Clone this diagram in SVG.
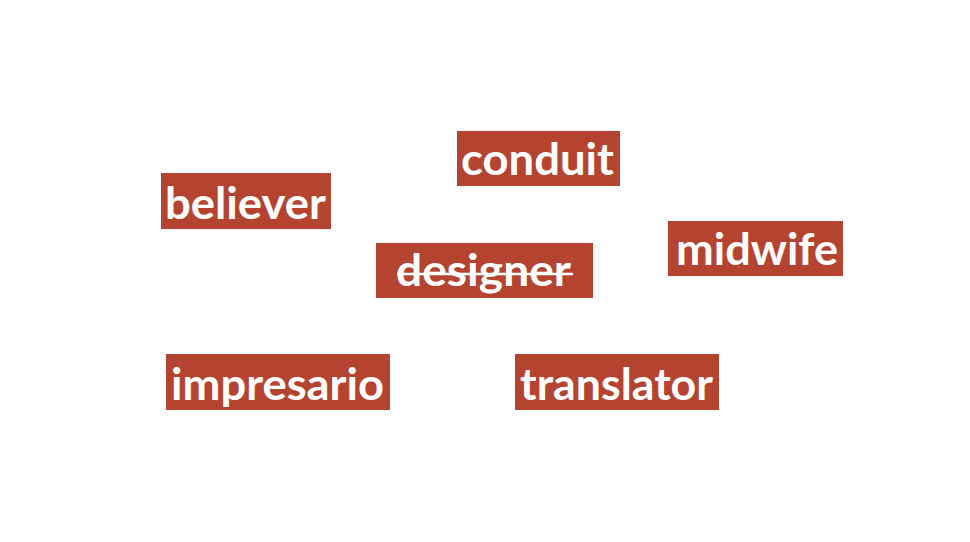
<svg xmlns="http://www.w3.org/2000/svg" width="970" height="542" viewBox="0 0 970 542">
<style>
.box{fill:#b4442f;}
.lbl{fill:#ffffff;font-family:Lato,"Open Sans","Liberation Sans",sans-serif;font-weight:bold;font-size:43px;}
.strike{stroke:#ffffff;stroke-width:2.5;}
</style>
<rect width="970" height="542" fill="#ffffff"/>
<g id="conduit">
<rect class="box" x="457" y="131" width="163" height="55"/>
<text class="lbl" x="461" y="175" textLength="153" lengthAdjust="spacingAndGlyphs">conduit</text>
</g>
<g id="believer">
<rect class="box" x="161" y="173" width="170" height="56"/>
<text class="lbl" x="165" y="219" textLength="161" lengthAdjust="spacingAndGlyphs">believer</text>
</g>
<g id="designer">
<rect class="box" x="376" y="243" width="217" height="55"/>
<text class="lbl" x="396" y="286" textLength="175" lengthAdjust="spacingAndGlyphs">designer</text>
<line class="strike" x1="397" y1="274" x2="573" y2="274"/>
</g>
<g id="midwife">
<rect class="box" x="668" y="221" width="175" height="55"/>
<text class="lbl" x="676" y="265" textLength="162" lengthAdjust="spacingAndGlyphs">midwife</text>
</g>
<g id="impresario">
<rect class="box" x="166" y="354" width="224" height="56"/>
<text class="lbl" x="171" y="400" textLength="213" lengthAdjust="spacingAndGlyphs">impresario</text>
</g>
<g id="translator">
<rect class="box" x="515" y="354" width="204" height="56"/>
<text class="lbl" x="520" y="400" textLength="193" lengthAdjust="spacingAndGlyphs">translator</text>
</g>
<g id="connectors"></g>
</svg>
